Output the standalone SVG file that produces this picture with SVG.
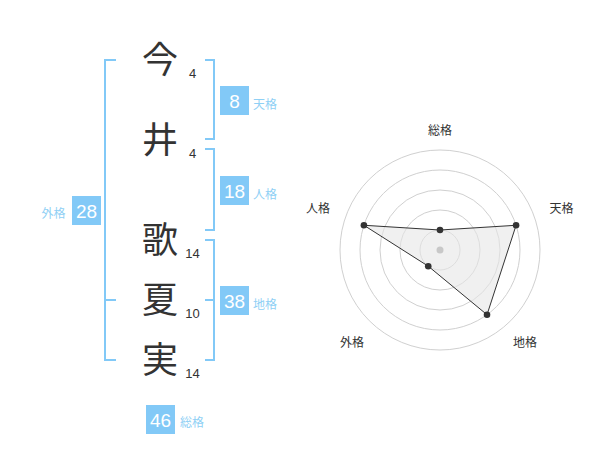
<svg xmlns="http://www.w3.org/2000/svg" width="600" height="470" viewBox="0 0 600 470">
<style>
.kanji{font-family:"Noto Sans CJK JP",sans-serif;font-size:36px;fill:#333;text-anchor:middle}
.stroke{font-family:"Liberation Sans","Noto Sans CJK JP",sans-serif;font-size:13px;fill:#333;text-anchor:middle}
.br{fill:none;stroke:#82c9f7;stroke-width:2}
.box{fill:#82c9f7}
.num{font-family:"Liberation Sans",sans-serif;font-size:19px;fill:#fff;text-anchor:middle}
.lab{font-family:"Noto Sans CJK JP",sans-serif;font-size:12px;fill:#8fd0f5}
.ring{fill:none;stroke:#d0d0d0;stroke-width:1}
.rl{font-family:"Noto Sans CJK JP",sans-serif;font-size:12px;fill:#333;text-anchor:middle}
.dot{fill:#333}
</style>
<rect width="600" height="470" fill="#fff"/>
<g id="chars">
<text class="kanji" x="160" y="73">今</text>
<text class="stroke" x="192.5" y="77.5">4</text>
<text class="kanji" x="160" y="153">井</text>
<text class="stroke" x="192.5" y="157.5">4</text>
<text class="kanji" x="160" y="253">歌</text>
<text class="stroke" x="192.5" y="257.5">14</text>
<text class="kanji" x="160" y="313">夏</text>
<text class="stroke" x="192.5" y="317.5">10</text>
<text class="kanji" x="160" y="373">実</text>
<text class="stroke" x="192.5" y="377.5">14</text>
</g>
<g id="connectors">
<path class="br" d="M116,60H105V360H116M105,300H116"/>
<path class="br" d="M205,60H214V139H205"/>
<path class="br" d="M205,149H214V230H205"/>
<path class="br" d="M205,240H214V360H205M205,300H214"/>
</g>
<g id="tenkaku">
<rect class="box" x="220" y="86" width="29" height="29"/>
<text class="num" x="234.5" y="107.5">8</text>
<text class="lab" x="253" y="108.5">天格</text>
</g>
<g id="jinkaku">
<rect class="box" x="220" y="176" width="29" height="29"/>
<text class="num" x="234.5" y="197.5">18</text>
<text class="lab" x="253" y="198.5">人格</text>
</g>
<g id="chikaku">
<rect class="box" x="220" y="286" width="29" height="29"/>
<text class="num" x="234.5" y="307.5">38</text>
<text class="lab" x="253" y="308.5">地格</text>
</g>
<g id="gaikaku">
<rect class="box" x="72" y="196" width="29" height="29"/>
<text class="num" x="86.5" y="217.5">28</text>
<text class="lab" x="41.5" y="218">外格</text>
</g>
<g id="soukaku">
<rect class="box" x="146" y="405" width="29" height="29"/>
<text class="num" x="160.5" y="426.5">46</text>
<text class="lab" x="180" y="427">総格</text>
</g>
<g id="radar">
<circle class="ring" cx="440" cy="250" r="20"/>
<circle class="ring" cx="440" cy="250" r="40"/>
<circle class="ring" cx="440" cy="250" r="60"/>
<circle class="ring" cx="440" cy="250" r="80"/>
<circle class="ring" cx="440" cy="250" r="100"/>
<polygon points="440,230 516.08,225.28 487.02,314.72 428.24,266.18 363.92,225.28" fill="#e6e6e6" fill-opacity="0.6" stroke="#333" stroke-width="1"/>
<circle cx="440" cy="250" r="3.5" fill="#c8c8c8"/>
<circle class="dot" cx="440" cy="230" r="3.3"/>
<circle class="dot" cx="516.08" cy="225.28" r="3.3"/>
<circle class="dot" cx="487.02" cy="314.72" r="3.3"/>
<circle class="dot" cx="428.24" cy="266.18" r="3.3"/>
<circle class="dot" cx="363.92" cy="225.28" r="3.3"/>
<text class="rl" x="440" y="134.5">総格</text>
<text class="rl" x="561.5" y="212.5">天格</text>
<text class="rl" x="318" y="212.5">人格</text>
<text class="rl" x="525" y="346.5">地格</text>
<text class="rl" x="352" y="346.5">外格</text>
</g>
</svg>
